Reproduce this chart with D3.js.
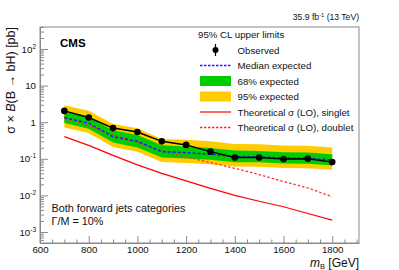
<!DOCTYPE html>
<html>
<head>
<meta charset="utf-8">
<script src="https://cdn.jsdelivr.net/npm/d3@7"></script>
<style>
body { margin: 0; background: #fff; }
svg { display: block; font-family: "Liberation Sans", Arial, sans-serif; }
</style>
</head>
<body>
<svg id="chart" width="399" height="270"></svg>
<script>
// B mass points [GeV]
var masses = [700, 800, 900, 1000, 1100, 1200, 1300, 1400, 1500, 1600, 1700, 1800];

// 95% CL limits [pb]
var observed = [2.04, 1.34, 0.69, 0.54, 0.30, 0.24, 0.157, 0.108, 0.108, 0.098, 0.101, 0.082];
var median = [1.34, 0.94, 0.40, 0.30, 0.157, 0.147, 0.134, 0.115, 0.113, 0.105, 0.103, 0.093];
var band68Lo = [0.95, 0.665, 0.28, 0.205, 0.108, 0.102, 0.094, 0.081, 0.080, 0.074, 0.073, 0.066];
var band68Hi = [1.94, 1.36, 0.60, 0.45, 0.235, 0.218, 0.198, 0.168, 0.164, 0.152, 0.149, 0.134];
var band95Lo = [0.72, 0.505, 0.21, 0.155, 0.082, 0.077, 0.071, 0.062, 0.061, 0.056, 0.055, 0.050];
var band95Hi = [2.93, 2.06, 0.90, 0.68, 0.35, 0.33, 0.30, 0.255, 0.248, 0.232, 0.226, 0.204];

// theory cross sections [pb]
var theorySinglet = [0.404, 0.232, 0.124, 0.068, 0.040, 0.025, 0.0156, 0.010, 0.0069, 0.0049, 0.0032, 0.0021];
var theoryDoublet = [1.27, 0.82, 0.44, 0.28, 0.165, 0.113, 0.079, 0.055, 0.037, 0.024, 0.016, 0.0092];

// axis ticks
var xMajor = [600, 800, 1000, 1200, 1400, 1600, 1800];
var yMajor = [1e-3, 1e-2, 1e-1, 1, 10, 100];
var yLabels = [['10', '-3'], ['10', '-2'], ['10', '-1'], ['1', ''], ['10', ''], ['10', '2']];

var legendLabels = ['Observed', 'Median expected', '68% expected', '95% expected',
                    'Theoretical \u03c3 (LO), singlet', 'Theoretical \u03c3 (LO), doublet'];

var svg = d3.select('#chart');

var x = d3.scaleLinear().domain([600, 1910]).range([40, 359]);
var y = d3.scaleLog().domain([5e-4, 400]).range([243, 27]);

var xMinor = d3.range(600, 1910, 50).filter(function(v) { return xMajor.indexOf(v) < 0; });
var yMinor = [];
[1e-4, 1e-3, 1e-2, 1e-1, 1, 10, 100].forEach(function(d) {
    for (var k = 2; k <= 9; k++) {
        var v = d * k;
        if (v >= 5e-4 && v <= 400) yMinor.push(v);
    }
});

var pts = masses.map(function(m, i) { return i; });

var band = function(lo, hi) {
    return d3.area()
        .x(function(i) { return x(masses[i]); })
        .y0(function(i) { return y(lo[i]); })
        .y1(function(i) { return y(hi[i]); });
};
var curve = function(vals) {
    return d3.line()
        .x(function(i) { return x(masses[i]); })
        .y(function(i) { return y(vals[i]); });
};

var plot = svg.append('g');

plot.append('path').datum(pts).attr('d', band(band95Lo, band95Hi)).attr('fill', '#ffcc00');
plot.append('path').datum(pts).attr('d', band(band68Lo, band68Hi)).attr('fill', '#00cc00');

plot.append('path').datum(pts).attr('d', curve(theorySinglet))
    .attr('fill', 'none').attr('stroke', '#ff0000').attr('stroke-width', 1.2);
plot.append('path').datum(pts).attr('d', curve(theoryDoublet))
    .attr('fill', 'none').attr('stroke', '#ff3030').attr('stroke-width', 1.3)
    .attr('stroke-dasharray', '2.5,2');
plot.append('path').datum(pts).attr('d', curve(median))
    .attr('fill', 'none').attr('stroke', '#1a1aff').attr('stroke-width', 1.5)
    .attr('stroke-dasharray', '3,2');

plot.append('path').datum(pts).attr('d', curve(observed))
    .attr('fill', 'none').attr('stroke', '#000').attr('stroke-width', 1.5);
plot.selectAll('circle.obs')
    .data(pts)
    .enter()
    .append('circle')
    .attr('class', 'obs')
    .attr('cx', function(i) { return x(masses[i]); })
    .attr('cy', function(i) { return y(observed[i]); })
    .attr('r', 3.3)
    .attr('fill', '#000');

// frame
svg.append('rect')
    .attr('x', 40).attr('y', 27).attr('width', 319).attr('height', 216)
    .attr('fill', 'none').attr('stroke', '#8a8a8a').attr('stroke-width', 1);

// x axis, ticks pointing inwards
var xAxis = svg.append('g').attr('transform', 'translate(0,243)')
    .call(d3.axisBottom(x).tickValues(xMajor).tickSizeInner(-7).tickSizeOuter(0).tickPadding(3)
        .tickFormat(d3.format('d')));
svg.append('g').attr('transform', 'translate(0,243)')
    .call(d3.axisBottom(x).tickValues(xMinor).tickSizeInner(-3.5).tickSizeOuter(0).tickFormat(''))
    .select('.domain').remove();

var yAxis = svg.append('g').attr('transform', 'translate(40,0)')
    .call(d3.axisLeft(y).tickValues(yMajor).tickSizeInner(-8).tickSizeOuter(0).tickPadding(4)
        .tickFormat(''));
svg.append('g').attr('transform', 'translate(40,0)')
    .call(d3.axisLeft(y).tickValues(yMinor).tickSizeInner(-4).tickSizeOuter(0).tickFormat(''))
    .select('.domain').remove();

svg.selectAll('.tick line').attr('stroke', '#8a8a8a');
svg.selectAll('.domain').attr('stroke', '#8a8a8a');

xAxis.selectAll('text').attr('font-size', 9.7).attr('fill', '#111')
    .attr('font-family', '"Liberation Sans", Arial, sans-serif');

yAxis.selectAll('.tick text').each(function(d, i) {
    var t = d3.select(this)
        .attr('font-size', 9.7).attr('fill', '#111')
        .attr('font-family', '"Liberation Sans", Arial, sans-serif');
    var lab = yLabels[yMajor.indexOf(d)];
    t.append('tspan').text(lab[0]);
    if (lab[1]) t.append('tspan').attr('dy', -4).attr('font-size', 6.5).text(lab[1]);
});

// axis titles
svg.append('text')
    .attr('x', 359).attr('y', 266.5)
    .attr('text-anchor', 'end').attr('font-size', 12).attr('fill', '#111')
    .call(function(t) {
        t.append('tspan').attr('font-style', 'italic').text('m');
        t.append('tspan').attr('font-size', 7.5).attr('dy', 2).text('B');
        t.append('tspan').attr('dy', -2).text(' [GeV]');
    });

svg.append('text')
    .attr('transform', 'translate(15,27) rotate(-90)')
    .attr('text-anchor', 'end').attr('font-size', 12.5).attr('fill', '#111')
    .call(function(t) {
        t.append('tspan').text('\u03c3 \u00d7 ');
        t.append('tspan').attr('font-style', 'italic').text('B');
        t.append('tspan').text('(B \u2192 bH) [pb]');
    });

// labels
svg.append('text')
    .attr('x', 60).attr('y', 46.5)
    .attr('font-size', 11.5).attr('font-weight', 'bold').attr('fill', '#000')
    .text('CMS');

svg.append('text')
    .attr('x', 359).attr('y', 20)
    .attr('text-anchor', 'end').attr('font-size', 8.6).attr('fill', '#111')
    .call(function(t) {
        t.append('tspan').text('35.9 fb');
        t.append('tspan').attr('font-size', 5.8).attr('dy', -3.2).text('-1');
        t.append('tspan').attr('dy', 3.2).text(' (13 TeV)');
    });

svg.append('text')
    .attr('x', 51.5).attr('y', 211.5)
    .attr('font-size', 10.8).attr('fill', '#111')
    .text('Both forward jets categories');
svg.append('text')
    .attr('x', 51.5).attr('y', 224.5)
    .attr('font-size', 10.8).attr('fill', '#111')
    .text('\u0393/M = 10%');

// legend
var legend = svg.append('g').attr('font-size', 9.7).attr('fill', '#111');
legend.append('text').attr('x', 198).attr('y', 37.5).text('95% CL upper limits');

var legY = [50, 65.5, 81, 96.5, 112, 127.5];
legend.selectAll('text.entry')
    .data(legendLabels)
    .enter()
    .append('text')
    .attr('class', 'entry')
    .attr('x', 237.5)
    .attr('y', function(d, i) { return legY[i] + 3.5; })
    .text(function(d) { return d; });

legend.append('line').attr('x1', 215.5).attr('x2', 215.5).attr('y1', 44).attr('y2', 56)
    .attr('stroke', '#000').attr('stroke-width', 1.2);
legend.append('circle').attr('cx', 215.5).attr('cy', legY[0]).attr('r', 3).attr('fill', '#000');
legend.append('line').attr('x1', 200).attr('x2', 231).attr('y1', legY[1]).attr('y2', legY[1])
    .attr('stroke', '#1a1aff').attr('stroke-width', 1.3).attr('stroke-dasharray', '2.5,1.5');
legend.append('rect').attr('x', 200).attr('y', legY[2] - 5).attr('width', 31).attr('height', 10)
    .attr('fill', '#00cc00');
legend.append('rect').attr('x', 200).attr('y', legY[3] - 5).attr('width', 31).attr('height', 10)
    .attr('fill', '#ffcc00');
legend.append('line').attr('x1', 200).attr('x2', 231).attr('y1', legY[4]).attr('y2', legY[4])
    .attr('stroke', '#ff0000').attr('stroke-width', 1.2);
legend.append('line').attr('x1', 200).attr('x2', 231).attr('y1', legY[5]).attr('y2', legY[5])
    .attr('stroke', '#ff3030').attr('stroke-width', 1.3).attr('stroke-dasharray', '2.5,1.5');
</script>
</body>
</html>
